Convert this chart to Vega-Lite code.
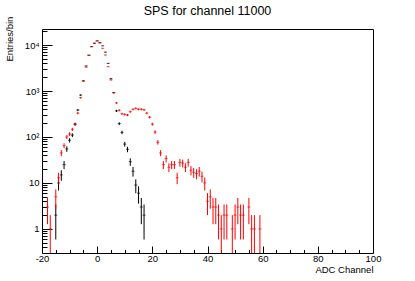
{
  "$schema": "https://vega.github.io/schema/vega-lite/v6.json",
  "width": 331,
  "height": 224,
  "autosize": "none",
  "padding": {"left": 42, "top": 29, "right": 42, "bottom": 28},
  "background": "white",
  "config": {
    "font": "Liberation Sans",
    "view": {"stroke": "black", "strokeWidth": 1},
    "axis": {"grid": false, "domain": false, "labelFont": "Liberation Sans", "titleFont": "Liberation Sans", "labelColor": "black", "titleColor": "black", "tickColor": "black", "titleFontWeight": "normal", "labelFontSize": 9.5, "titleFontSize": 9.5}
  },
  "title": {"text": "SPS for channel 11000", "font": "Liberation Sans", "fontSize": 12.5, "fontWeight": "normal", "anchor": "middle", "color": "black", "offset": 11, "dy": 12},
  "data": {"values": [
    {"x": -15, "v": 2, "lo": 0.59, "hi": 3.41, "s": "black"},
    {"x": -14, "v": 10, "lo": 6.84, "hi": 13.16, "s": "black"},
    {"x": -13, "v": 15, "lo": 11.13, "hi": 18.87, "s": "black"},
    {"x": -12, "v": 25, "lo": 20, "hi": 30, "s": "black"},
    {"x": -11, "v": 55, "lo": 47.58, "hi": 62.42, "s": "black"},
    {"x": -10, "v": 85, "lo": 75.78, "hi": 94.22, "s": "black"},
    {"x": -9, "v": 110, "lo": 99.51, "hi": 120.49, "s": "black"},
    {"x": -8, "v": 190, "lo": 176.22, "hi": 203.78, "s": "black"},
    {"x": -7, "v": 385, "lo": 365.38, "hi": 404.62, "s": "black"},
    {"x": -6, "v": 815, "lo": 786.45, "hi": 843.55, "s": "black"},
    {"x": -5, "v": 1660, "lo": 1619.26, "hi": 1700.74, "s": "black"},
    {"x": -4, "v": 3500, "lo": 3440.84, "hi": 3559.16, "s": "black"},
    {"x": -3, "v": 6000, "lo": 5922.54, "hi": 6077.46, "s": "black"},
    {"x": -2, "v": 9200, "lo": 9104.08, "hi": 9295.92, "s": "black"},
    {"x": -1, "v": 10900, "lo": 10795.6, "hi": 11004.4, "s": "black"},
    {"x": 0, "v": 12300, "lo": 12189.1, "hi": 12410.9, "s": "black"},
    {"x": 1, "v": 11400, "lo": 11293.2, "hi": 11506.8, "s": "black"},
    {"x": 2, "v": 9600, "lo": 9502.0, "hi": 9698.0, "s": "black"},
    {"x": 3, "v": 7000, "lo": 6916.33, "hi": 7083.67, "s": "black"},
    {"x": 4, "v": 4000, "lo": 3936.75, "hi": 4063.25, "s": "black"},
    {"x": 5, "v": 1850, "lo": 1806.99, "hi": 1893.01, "s": "black"},
    {"x": 6, "v": 920, "lo": 889.67, "hi": 950.33, "s": "black"},
    {"x": 7, "v": 370, "lo": 350.76, "hi": 389.24, "s": "black"},
    {"x": 8, "v": 195, "lo": 181.04, "hi": 208.96, "s": "black"},
    {"x": 9, "v": 126, "lo": 114.78, "hi": 137.22, "s": "black"},
    {"x": 10, "v": 70, "lo": 61.63, "hi": 78.37, "s": "black"},
    {"x": 11, "v": 54, "lo": 46.65, "hi": 61.35, "s": "black"},
    {"x": 12, "v": 29, "lo": 23.61, "hi": 34.39, "s": "black"},
    {"x": 13, "v": 18, "lo": 13.76, "hi": 22.24, "s": "black"},
    {"x": 14, "v": 9, "lo": 6, "hi": 12, "s": "black"},
    {"x": 15, "v": 6, "lo": 3.55, "hi": 8.45, "s": "black"},
    {"x": 16, "v": 3, "lo": 1.27, "hi": 4.73, "s": "black"},
    {"x": 17, "v": 2, "lo": 0.59, "hi": 3.41, "s": "black"},
    {"x": -18, "v": 3, "lo": 1.27, "hi": 4.73, "s": "red"},
    {"x": -17, "v": 1, "lo": 0.001, "hi": 2, "s": "red"},
    {"x": -15, "v": 5, "lo": 2.76, "hi": 7.24, "s": "red"},
    {"x": -14, "v": 13, "lo": 9.39, "hi": 16.61, "s": "red"},
    {"x": -13, "v": 45, "lo": 38.29, "hi": 51.71, "s": "red"},
    {"x": -12, "v": 65, "lo": 56.94, "hi": 73.06, "s": "red"},
    {"x": -11, "v": 100, "lo": 90, "hi": 110, "s": "red"},
    {"x": -10, "v": 116, "lo": 105.23, "hi": 126.77, "s": "red"},
    {"x": -9, "v": 147, "lo": 134.88, "hi": 159.12, "s": "red"},
    {"x": -8, "v": 190, "lo": 176.22, "hi": 203.78, "s": "red"},
    {"x": -7, "v": 330, "lo": 311.83, "hi": 348.17, "s": "red"},
    {"x": -6, "v": 715, "lo": 688.26, "hi": 741.74, "s": "red"},
    {"x": -5, "v": 1660, "lo": 1619.26, "hi": 1700.74, "s": "red"},
    {"x": -4, "v": 3300, "lo": 3242.55, "hi": 3357.45, "s": "red"},
    {"x": -3, "v": 6000, "lo": 5922.54, "hi": 6077.46, "s": "red"},
    {"x": -2, "v": 9200, "lo": 9104.08, "hi": 9295.92, "s": "red"},
    {"x": -1, "v": 11000, "lo": 10895.1, "hi": 11104.9, "s": "red"},
    {"x": 0, "v": 12300, "lo": 12189.1, "hi": 12410.9, "s": "red"},
    {"x": 1, "v": 11000, "lo": 10895.1, "hi": 11104.9, "s": "red"},
    {"x": 2, "v": 8500, "lo": 8407.8, "hi": 8592.2, "s": "red"},
    {"x": 3, "v": 6050, "lo": 5972.22, "hi": 6127.78, "s": "red"},
    {"x": 4, "v": 3380, "lo": 3321.86, "hi": 3438.14, "s": "red"},
    {"x": 5, "v": 1740, "lo": 1698.29, "hi": 1781.71, "s": "red"},
    {"x": 6, "v": 920, "lo": 889.67, "hi": 950.33, "s": "red"},
    {"x": 7, "v": 550, "lo": 526.55, "hi": 573.45, "s": "red"},
    {"x": 8, "v": 380, "lo": 360.51, "hi": 399.49, "s": "red"},
    {"x": 9, "v": 320, "lo": 302.11, "hi": 337.89, "s": "red"},
    {"x": 10, "v": 310, "lo": 292.39, "hi": 327.61, "s": "red"},
    {"x": 11, "v": 300, "lo": 282.68, "hi": 317.32, "s": "red"},
    {"x": 12, "v": 355, "lo": 336.16, "hi": 373.84, "s": "red"},
    {"x": 13, "v": 400, "lo": 380, "hi": 420, "s": "red"},
    {"x": 14, "v": 420, "lo": 399.51, "hi": 440.49, "s": "red"},
    {"x": 15, "v": 400, "lo": 380, "hi": 420, "s": "red"},
    {"x": 16, "v": 400, "lo": 380, "hi": 420, "s": "red"},
    {"x": 17, "v": 390, "lo": 370.25, "hi": 409.75, "s": "red"},
    {"x": 18, "v": 330, "lo": 311.83, "hi": 348.17, "s": "red"},
    {"x": 19, "v": 270, "lo": 253.57, "hi": 286.43, "s": "red"},
    {"x": 20, "v": 190, "lo": 176.22, "hi": 203.78, "s": "red"},
    {"x": 21, "v": 128, "lo": 116.69, "hi": 139.31, "s": "red"},
    {"x": 22, "v": 77, "lo": 68.23, "hi": 85.77, "s": "red"},
    {"x": 23, "v": 45, "lo": 38.29, "hi": 51.71, "s": "red"},
    {"x": 24, "v": 25, "lo": 20, "hi": 30, "s": "red"},
    {"x": 25, "v": 34, "lo": 28.17, "hi": 39.83, "s": "red"},
    {"x": 26, "v": 22, "lo": 17.31, "hi": 26.69, "s": "red"},
    {"x": 27, "v": 25, "lo": 20, "hi": 30, "s": "red"},
    {"x": 28, "v": 25, "lo": 20, "hi": 30, "s": "red"},
    {"x": 29, "v": 13, "lo": 9.39, "hi": 16.61, "s": "red"},
    {"x": 30, "v": 28, "lo": 22.71, "hi": 33.29, "s": "red"},
    {"x": 31, "v": 27, "lo": 21.8, "hi": 32.2, "s": "red"},
    {"x": 32, "v": 22, "lo": 17.31, "hi": 26.69, "s": "red"},
    {"x": 33, "v": 28, "lo": 22.71, "hi": 33.29, "s": "red"},
    {"x": 34, "v": 19, "lo": 14.64, "hi": 23.36, "s": "red"},
    {"x": 35, "v": 17, "lo": 12.88, "hi": 21.12, "s": "red"},
    {"x": 36, "v": 16, "lo": 12, "hi": 20, "s": "red"},
    {"x": 37, "v": 18, "lo": 13.76, "hi": 22.24, "s": "red"},
    {"x": 38, "v": 14, "lo": 10.26, "hi": 17.74, "s": "red"},
    {"x": 39, "v": 10, "lo": 6.84, "hi": 13.16, "s": "red"},
    {"x": 40, "v": 4, "lo": 2, "hi": 6, "s": "red"},
    {"x": 41, "v": 5, "lo": 2.76, "hi": 7.24, "s": "red"},
    {"x": 42, "v": 3, "lo": 1.27, "hi": 4.73, "s": "red"},
    {"x": 43, "v": 3, "lo": 1.27, "hi": 4.73, "s": "red"},
    {"x": 44, "v": 2, "lo": 0.59, "hi": 3.41, "s": "red"},
    {"x": 45, "v": 1, "lo": 0.001, "hi": 2, "s": "red"},
    {"x": 46, "v": 2, "lo": 0.59, "hi": 3.41, "s": "red"},
    {"x": 47, "v": 2, "lo": 0.59, "hi": 3.41, "s": "red"},
    {"x": 49, "v": 1, "lo": 0.001, "hi": 2, "s": "red"},
    {"x": 50, "v": 2, "lo": 0.59, "hi": 3.41, "s": "red"},
    {"x": 51, "v": 3, "lo": 1.27, "hi": 4.73, "s": "red"},
    {"x": 52, "v": 2, "lo": 0.59, "hi": 3.41, "s": "red"},
    {"x": 53, "v": 2, "lo": 0.59, "hi": 3.41, "s": "red"},
    {"x": 55, "v": 3, "lo": 1.27, "hi": 4.73, "s": "red"},
    {"x": 56, "v": 1, "lo": 0.001, "hi": 2, "s": "red"},
    {"x": 57, "v": 1, "lo": 0.001, "hi": 2, "s": "red"},
    {"x": 59, "v": 1, "lo": 0.001, "hi": 2, "s": "red"}
  ]},
  "encoding": {
    "x": {"field": "x", "type": "quantitative",
      "scale": {"domain": [-20, 100], "nice": false, "zero": false},
      "axis": {"title": "ADC Channel", "values": [-20,-15,-10,-5,0,5,10,15,20,25,30,35,40,45,50,55,60,65,70,75,80,85,90,95,100],
        "labelExpr": "datum.value % 20 == 0 ? '' + datum.value : ''",
        "tickSize": {"condition": {"test": "datum.value % 20 == 0", "value": -7}, "value": -3.5},
        "labelPadding": 7, "labelFlush": false, "labelOverlap": false,
        "titleAnchor": "end", "titleAlign": "right", "titleBaseline": "alphabetic", "titleX": 331, "titleY": 19}},
    "color": {"field": "s", "type": "nominal", "scale": {"domain": ["black", "red"], "range": ["#000000", "#ff0000"]}, "legend": null}
  },
  "layer": [
    {"mark": {"type": "rule", "strokeWidth": 1, "clip": true},
     "encoding": {
       "y": {"field": "lo", "type": "quantitative",
         "scale": {"type": "log", "domain": [0.3, 22300], "nice": false},
         "axis": {"title": "Entries/bin",
           "values": [0.3,0.4,0.5,0.6,0.7,0.8,0.9,1,2,3,4,5,6,7,8,9,10,20,30,40,50,60,70,80,90,100,200,300,400,500,600,700,800,900,1000,2000,3000,4000,5000,6000,7000,8000,9000,10000,20000],
           "labelExpr": "datum.value == 1 ? '1' : datum.value == 10 ? '10' : datum.value == 100 ? '10²' : datum.value == 1000 ? '10³' : datum.value == 10000 ? '10⁴' : ''",
           "tickSize": {"condition": {"test": "indexof([1,10,100,1000,10000], datum.value) >= 0", "value": -10}, "value": -5},
           "labelPadding": 13, "labelOverlap": false, "labelFlush": false,
           "titleAngle": -90, "titleAlign": "left", "titleBaseline": "alphabetic", "titleX": -30, "titleY": 32}},
       "y2": {"field": "hi"}
     }},
    {"mark": {"type": "tick", "orient": "horizontal", "size": 3, "thickness": 1, "clip": true},
     "encoding": {"y": {"field": "v", "type": "quantitative"}}}
  ]
}
